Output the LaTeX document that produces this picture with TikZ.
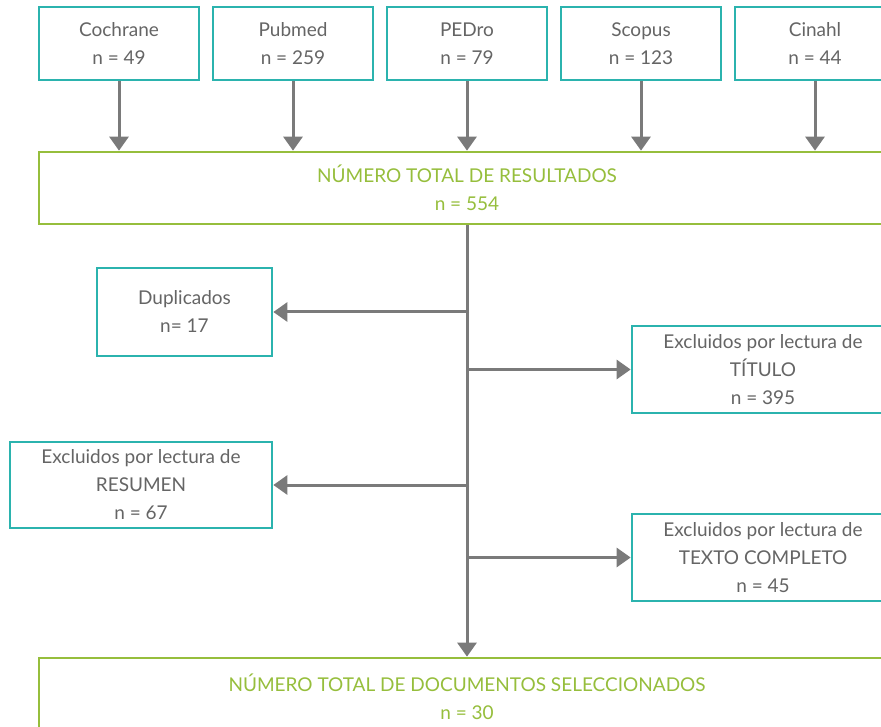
\documentclass[tikz,border=0pt]{standalone}
\usepackage{fontspec}
\setmainfont{Lato}
\usetikzlibrary{arrows.meta}
\definecolor{teal2}{HTML}{2BB3AE}
\definecolor{green2}{HTML}{96BE3C}
\definecolor{greyline}{HTML}{7A7A7A}
\definecolor{greytext}{HTML}{656565}
\begin{document}
\begin{tikzpicture}[x=1pt,y=-1pt,
  srcbox/.style={draw=teal2,line width=2.7pt,rectangle,inner sep=0pt,align=center,
     text=greytext,font=\fontsize{19}{28}\selectfont},
  totbox/.style={draw=green2,line width=2.7pt,rectangle,inner sep=0pt,align=center,
     text=green2,font=\fontsize{19}{28}\selectfont,minimum width=856pt,minimum height=72pt},
  conn/.style={draw=greyline,line width=3pt,-{Triangle[width=19pt,length=14pt]}},
  spine/.style={draw=greyline,line width=3pt}]
\useasboundingbox (0,0) rectangle (881,727);
\clip (0,0) rectangle (881,727);
\fill[white] (0,0) rectangle (881,727);
% top sources
\foreach \nm/\cx/\lab in {coch/119/{Cochrane\\n = 49},pub/293/{Pubmed\\n = 259},ped/467/{PEDro\\n = 79},sco/641/{Scopus\\n = 123},cin/815/{Cinahl\\n = 44}}{
  \node[srcbox,minimum width=160pt,minimum height=73pt] (\nm) at (\cx,43.5) {\lab};
}
\node[totbox] (tot) at (467,188) {NÚMERO TOTAL DE RESULTADOS\\n = 554};
\node[totbox,minimum height=78pt] (fin) at (467,697) {NÚMERO TOTAL DE DOCUMENTOS SELECCIONADOS\\n = 30};
\foreach \nm in {coch,pub,ped,sco,cin}{
  \draw[conn] (\nm.south) -- (\nm.south |- tot.north);
}
% side boxes
\node[srcbox,minimum width=175pt,minimum height=88pt] (dup) at (184.5,312) {Duplicados\\n= 17};
\node[srcbox,minimum width=262pt,minimum height=87pt] (tit) at (763,369.5) {Excluidos por lectura de\\TÍTULO\\n = 395};
\node[srcbox,minimum width=262pt,minimum height=86pt] (res) at (141,485) {Excluidos por lectura de\\RESUMEN\\n = 67};
\node[srcbox,minimum width=262pt,minimum height=87pt] (tex) at (763,557.5) {Excluidos por lectura de\\TEXTO COMPLETO\\n = 45};
% spine
\draw[conn] (tot.south) -- (fin.north);
\coordinate (j1) at (tot.south |- dup.east);
\coordinate (j2) at (tot.south |- tit.west);
\coordinate (j3) at (tot.south |- res.east);
\coordinate (j4) at (tot.south |- tex.west);
\draw[conn] ([xshift=2pt]j1) -- (dup.east);
\draw[conn] (j2) -- (tit.west);
\draw[conn] ([xshift=2pt]j3) -- (res.east);
\draw[conn] (j4) -- (tex.west);
\end{tikzpicture}
\end{document}
